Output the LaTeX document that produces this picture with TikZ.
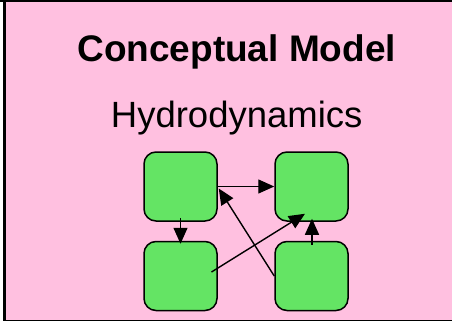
\documentclass[tikz,border=0pt]{standalone}
\usepackage{fontspec}
\setmainfont{Liberation Sans}
\usetikzlibrary{arrows.meta,calc}
\definecolor{bgpink}{RGB}{255,192,224}
\definecolor{boxgreen}{RGB}{100,228,100}
\tikzset{
  gbox/.style={draw=black,line width=1.5pt,fill=boxgreen,rounded corners=12pt,
    minimum width=73pt,minimum height=69pt,inner sep=0pt},
  conn/.style={draw=black,line width=1.4pt,-{Triangle[length=16pt,width=14pt]}},
}
\begin{document}
\begin{tikzpicture}[x=1pt,y=-1pt]
\useasboundingbox (0,0) rectangle (452,322);
\fill[white] (0,0) rectangle (452,322);
\fill[bgpink] (4.5,1.5) rectangle (452,320.5);
\draw[line width=2pt] (0,1) -- (452,1);
\draw[line width=2.5pt] (4.5,1) -- (4.5,320.5);
\draw[line width=1.5pt] (4.5,320.5) -- (452,320.5);
\node[anchor=base,font=\fontsize{37}{44}\selectfont\bfseries,inner sep=0pt] (title) at (236.7,61) {Conceptual Model};
\node[anchor=base,font=\fontsize{36.5}{44}\selectfont,inner sep=0pt] (sub) at (236.7,127.7) {Hydrodynamics};
\node[gbox] (tl) at (180.5,186.5) {};
\node[gbox] (tr) at (311.5,186.5) {};
\node[gbox] (bl) at (180.5,276) {};
\node[gbox] (br) at (311.5,276) {};
\draw[conn] (tl.east) -- (tr.west);
\draw[conn] ($(tl.south)+(0,-4)$) -- ($(bl.north)+(0,3)$);
\draw[conn] ($(bl.center)+(31,-4)$) -- ($(tr.south)+(-6.5,-8)$);
\draw[conn] (br.west) -- ($(tl.east)+(1,2)$);
\draw[conn] ($(br.north)+(0.5,4)$) -- ($(tr.south)+(0.5,-3)$);
\end{tikzpicture}
\end{document}
